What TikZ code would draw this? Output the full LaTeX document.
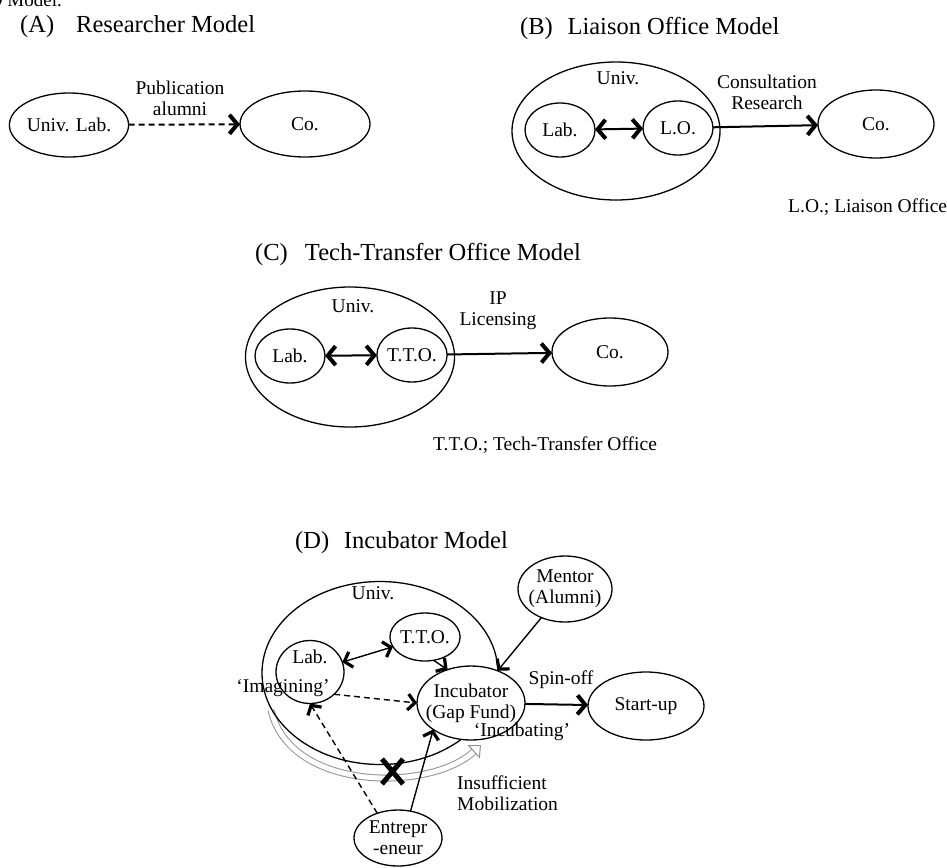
\documentclass[tikz,border=0pt]{standalone}
\usepackage{fontspec}
\setmainfont{Liberation Serif}
\usetikzlibrary{arrows.meta,shapes.geometric}
\newcommand{\ttlfont}{\fontsize{24.5}{28}\selectfont}
\newcommand{\lblfont}{\fontsize{19.5}{21}\selectfont}
\tikzset{%
    chev/.tip={Straight Barb[length=8pt,width=19pt,line width=4pt]},
    smallchev/.tip={Straight Barb[length=7pt,width=16pt,line width=3.2pt]},
    oval/.style={shape=ellipse,draw,line width=1.3pt,inner sep=0pt,outer sep=0pt,fill=white,font=\lblfont,align=center},
    zone/.style={shape=ellipse,draw,line width=1.3pt,inner sep=0pt,outer sep=0pt},
    lbl/.style={font=\lblfont,align=center,inner sep=0pt},
    ttl/.style={font=\ttlfont,anchor=base west,inner sep=0pt},
    flow/.style={line width=2pt,-chev},
    link/.style={line width=2pt,chev-chev},
    dashflow/.style={flow,dash pattern=on 6pt off 4pt},
    dflow/.style={line width=1.4pt,-smallchev},
    dlink/.style={line width=1.4pt,smallchev-smallchev},
    ddash/.style={dflow,dash pattern=on 6pt off 4pt},
    hollowflow/.style={draw=gray!85,line width=1pt,double=white,double distance=5pt,-{Triangle[open,length=10pt,width=18pt]}},
    cross/.style={line width=5pt},
}

\begin{document}
\begin{tikzpicture}[x=1pt,y=-1pt]
    \useasboundingbox (0,0) rectangle (947,867);
    \node[ttl,font=\fontsize{19}{21}\selectfont,anchor=base east] (frag) at (62,7) {D Model.};

    % (A)
    \node[ttl] (ttla) at (20,33) {(A)\hspace{0.9em}Researcher Model};
    \node[oval,minimum width=116pt,minimum height=64pt] (laba) at (69,125) {Univ. Lab.};
    \node[oval,minimum width=130pt,minimum height=66pt] (coa) at (305,124) {Co.};
    \draw[dashflow] (laba) -- (coa);
    \node[lbl] (pubtxt) at (180,98) {Publication\\alumni};

    % (B)
    \node[ttl] (ttlb) at (520,35) {(B)\hspace{0.6em}Liaison Office Model};
    \node[zone,minimum width=208pt,minimum height=138pt] (univb) at (616,131) {};
    \node[lbl] (univbtxt) at (618,78) {Univ.};
    \node[oval,minimum width=70pt,minimum height=54pt] (labb) at (560,130) {Lab.};
    \node[oval,minimum width=70pt,minimum height=54pt] (lob) at (678,128) {L.O.};
    \node[oval,minimum width=116pt,minimum height=68pt] (cob) at (876,124) {Co.};
    \draw[link] (labb) -- (lob);
    \draw[flow] (lob) -- (cob);
    \node[lbl] (contxt) at (767,92) {Consultation\\Research};
    \node[lbl,anchor=base west] (lonote) at (788,212) {L.O.; Liaison Office};

    % (C)
    \node[ttl] (ttlc) at (255,260) {(C)\hspace{0.7em}Tech-Transfer Office Model};
    \node[zone,minimum width=209pt,minimum height=140pt] (univc) at (350,357) {};
    \node[lbl] (univctxt) at (353,306) {Univ.};
    \node[oval,minimum width=70pt,minimum height=54pt] (labc) at (290,356) {Lab.};
    \node[oval,minimum width=70pt,minimum height=54pt] (ttoc) at (412,355) {T.T.O.};
    \node[oval,minimum width=116pt,minimum height=68pt] (coc) at (610,352) {Co.};
    \draw[link] (labc) -- (ttoc);
    \draw[flow] (ttoc) -- (coc);
    \node[lbl] (iptxt) at (498,311) {IP\\Licensing};
    \node[lbl,anchor=base west] (ttonote) at (433,450) {T.T.O.; Tech-Transfer Office};

    % (D)
    \node[ttl] (ttld) at (295,548) {(D)\hspace{0.6em}Incubator Model};
    \coordinate (imgs) at (271,710);
    \coordinate (imge) at (481,745);
    \draw[hollowflow] (imgs) .. controls (290,792) and (430,792) .. (imge);
    \node[zone,minimum width=236pt,minimum height=183pt] (univd) at (380,673) {};
    \node[lbl] (univdtxt) at (373,593) {Univ.};
    \node[oval,minimum width=70pt,minimum height=48pt] (ttod) at (425,637) {T.T.O.};
    \node[oval,minimum width=68pt,minimum height=50pt] (labd) at (310,672) {Lab.\\[10pt]};
    \node[oval,minimum width=108pt,minimum height=74pt,inner xsep=-9pt] (incub) at (471,703) {Incubator\\(Gap Fund)};
    \node[oval,minimum width=94pt,minimum height=66pt,inner xsep=-6pt] (mentor) at (565,589) {Mentor\\(Alumni)};
    \node[oval,minimum width=116pt,minimum height=68pt] (startup) at (646,706) {Start-up};
    \node[oval,minimum width=88pt,minimum height=56pt] (entr) at (398,838) {Entrepr\\-eneur};
    \draw[dlink] (labd) -- (ttod);
    \draw[dflow] (ttod.290) -- (incub.125);
    \draw[dflow] (mentor) -- (incub);
    \draw[ddash] (labd.south east) -- (incub.west);
    \draw[ddash] (entr.130) -- (labd.south);
    \draw[dflow] (entr.65) -- (incub.215);
    \draw[flow] (incub) -- (startup);
    \draw[cross] (382,759) -- (403,784) (403,759) -- (382,784);
    \node[lbl] (spintxt) at (561,680) {Spin-off};
    \node[lbl] (imagtxt) at (283,688) {‘Imagining’};
    \node[lbl] (incutxt) at (522,732) {‘Incubating’};
    \node[lbl,anchor=west,align=left] (mobtxt) at (457,793) {Insufficient\\Mobilization};
\end{tikzpicture}
\end{document}
